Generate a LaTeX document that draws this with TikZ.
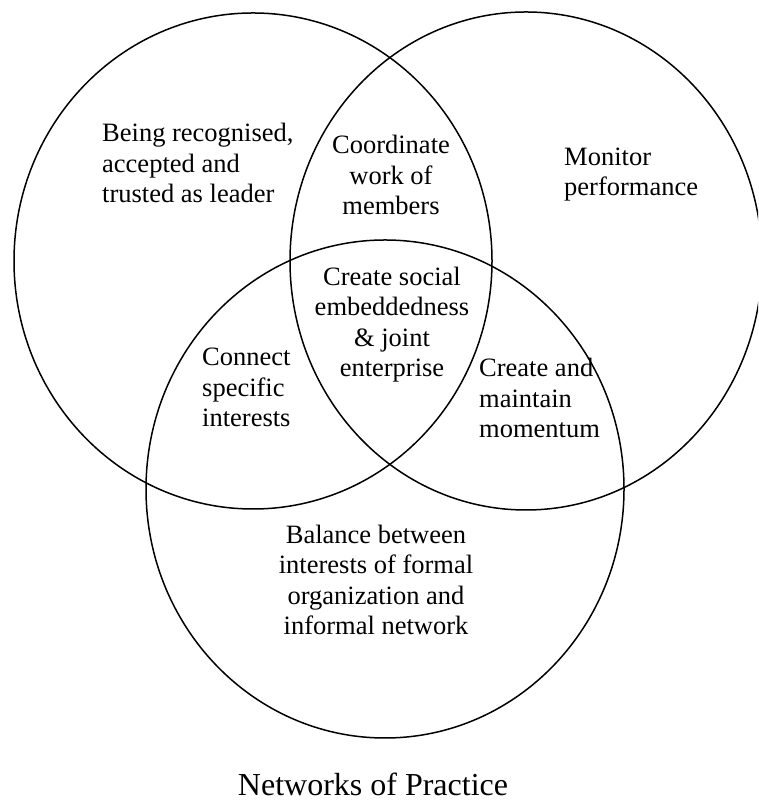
\documentclass[tikz,border=0pt]{standalone}
\usepackage{fontspec}
\setmainfont{Liberation Serif}
\begin{document}
\begin{tikzpicture}[x=1pt,y=1pt,
  set/.style={line width=1.5pt},
  lbl/.style={inner sep=0pt,font=\fontsize{26.5}{30.5}\selectfont}]
\useasboundingbox (0,0) rectangle (758,802);
\clip (0,0) rectangle (758,802);
% the three sets
\draw[set] (253,541) ellipse [x radius=239,y radius=248];
\draw[set] (526,541) ellipse [x radius=236,y radius=249];
\draw[set] (385,313) ellipse [x radius=239,y radius=249];
% texts in the regions (base = last line)
\node[lbl,align=left,anchor=base west] (leader) at (102,599) {Being recognised,\\accepted and\\trusted as leader};
\node[lbl,align=center,anchor=base] (coord) at (391,587) {Coordinate\\work of\\members};
\node[lbl,align=left,anchor=base west] (monitor) at (564,606) {Monitor\\performance};
\node[lbl,align=center,anchor=base] (social) at (392,425) {Create social\\embeddedness\\\& joint\\enterprise};
\node[lbl,align=left,anchor=base west] (connect) at (202,375) {Connect\\specific\\interests};
\node[lbl,align=left,anchor=base west] (momentum) at (479,364) {Create and\\maintain\\momentum};
\node[lbl,align=center,anchor=base] (balance) at (376,167) {Balance between\\interests of formal\\organization and\\informal network};
\node[inner sep=0pt,font=\fontsize{32}{36}\selectfont,anchor=base] (title) at (373,6) {Networks of Practice};
\end{tikzpicture}
\end{document}
